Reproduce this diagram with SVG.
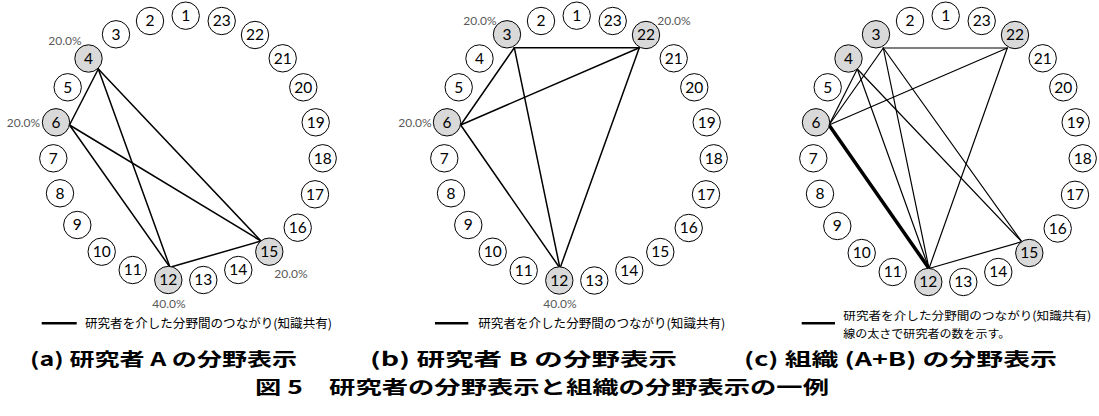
<svg xmlns="http://www.w3.org/2000/svg" width="1099" height="416" viewBox="0 0 1099 416">
<style>
.n circle{fill:#fff;stroke:#000;stroke-width:1}
.n.h circle{fill:#d9d9d9}
.n text{font-family:Lato,"Open Sans",sans-serif;font-size:15.5px;text-anchor:middle;fill:#000}
.e line{stroke:#000;stroke-width:1.5;stroke-linecap:round}
.e.c line{stroke-width:1.2}
.e line.thick{stroke-width:3.5}
.pct{font-family:Lato,"Open Sans",sans-serif;font-size:12px;fill:#595959;text-anchor:middle}
.lg{font-family:"Noto Sans CJK JP",sans-serif;font-size:12.5px;fill:#000}
.lg2{font-family:"Noto Sans CJK JP",sans-serif;font-size:11.5px;fill:#000}
.lgl{stroke:#000;stroke-width:2.5}
.cap{font-family:"Noto Sans CJK JP",sans-serif;font-size:18.5px;font-weight:700;fill:#000}
</style>
<rect width="1099" height="416" fill="#fff"/>

<!-- connectors -->
<g id="edges-a" class="e">
<line x1="98.3" y1="69" x2="69.5" y2="125"/>
<line x1="98.3" y1="69" x2="170" y2="267.3"/>
<line x1="98.3" y1="69" x2="261" y2="241"/>
<line x1="69.5" y1="125" x2="170" y2="267.3"/>
<line x1="69.5" y1="125" x2="261" y2="241"/>
<line x1="170" y1="267.3" x2="261" y2="241"/>
</g>
<g id="edges-b" class="e">
<line x1="514.3" y1="47.7" x2="639.3" y2="47.7"/>
<line x1="514.3" y1="47.7" x2="460.7" y2="125"/>
<line x1="514.3" y1="47.7" x2="560" y2="268.3"/>
<line x1="639.3" y1="47.7" x2="460.7" y2="125"/>
<line x1="639.3" y1="47.7" x2="560" y2="268.3"/>
<line x1="460.7" y1="125" x2="560" y2="268.3"/>
</g>
<g id="edges-c" class="e c">
<line x1="883.3" y1="48" x2="1007.3" y2="48"/>
<line x1="883.3" y1="48" x2="829" y2="125"/>
<line x1="883.3" y1="48" x2="929" y2="268.5"/>
<line x1="883.3" y1="48" x2="1021.7" y2="241.7"/>
<line x1="1007.3" y1="48" x2="829" y2="125"/>
<line x1="1007.3" y1="48" x2="929" y2="268.5"/>
<line x1="857.3" y1="69" x2="829" y2="125"/>
<line x1="857.3" y1="69" x2="929" y2="268.5"/>
<line x1="857.3" y1="69" x2="1021.7" y2="241.7"/>
<line class="thick" x1="829" y1="125" x2="929" y2="268.5"/>
<line x1="929" y1="268.5" x2="1021.7" y2="241.7"/>
</g>

<!-- panel a nodes -->
<g id="a-n1" class="n" transform="translate(185.7,15.7)"><circle r="13.7"/><text y="5.3">1</text></g>
<g id="a-n2" class="n" transform="translate(150,21)"><circle r="13.7"/><text y="5.3">2</text></g>
<g id="a-n3" class="n" transform="translate(116,34.3)"><circle r="13.7"/><text y="5.3">3</text></g>
<g id="a-n4" class="n h" transform="translate(88.5,58.5)"><circle r="13.7"/><text y="5.3">4</text></g>
<g id="a-n5" class="n" transform="translate(67.7,87.3)"><circle r="13.7"/><text y="5.3">5</text></g>
<g id="a-n6" class="n h" transform="translate(56,122.3)"><circle r="13.7"/><text y="5.3">6</text></g>
<g id="a-n7" class="n" transform="translate(53.3,158.3)"><circle r="13.7"/><text y="5.3">7</text></g>
<g id="a-n8" class="n" transform="translate(60,193.3)"><circle r="13.7"/><text y="5.3">8</text></g>
<g id="a-n9" class="n" transform="translate(77.3,225)"><circle r="13.7"/><text y="5.3">9</text></g>
<g id="a-n10" class="n" transform="translate(101.7,251.7)"><circle r="13.7"/><text y="5.3">10</text></g>
<g id="a-n11" class="n" transform="translate(132.7,270)"><circle r="13.7"/><text y="5.3">11</text></g>
<g id="a-n12" class="n h" transform="translate(168.3,280)"><circle r="13.7"/><text y="5.3">12</text></g>
<g id="a-n13" class="n" transform="translate(203.3,280)"><circle r="13.7"/><text y="5.3">13</text></g>
<g id="a-n14" class="n" transform="translate(238.3,270)"><circle r="13.7"/><text y="5.3">14</text></g>
<g id="a-n15" class="n h" transform="translate(269.3,251.7)"><circle r="13.7"/><text y="5.3">15</text></g>
<g id="a-n16" class="n" transform="translate(297.7,227.7)"><circle r="13.7"/><text y="5.3">16</text></g>
<g id="a-n17" class="n" transform="translate(315,194.3)"><circle r="13.7"/><text y="5.3">17</text></g>
<g id="a-n18" class="n" transform="translate(322.7,158.3)"><circle r="13.7"/><text y="5.3">18</text></g>
<g id="a-n19" class="n" transform="translate(315.7,122.3)"><circle r="13.7"/><text y="5.3">19</text></g>
<g id="a-n20" class="n" transform="translate(303.3,87.3)"><circle r="13.7"/><text y="5.3">20</text></g>
<g id="a-n21" class="n" transform="translate(282.7,58.3)"><circle r="13.7"/><text y="5.3">21</text></g>
<g id="a-n22" class="n" transform="translate(255,35)"><circle r="13.7"/><text y="5.3">22</text></g>
<g id="a-n23" class="n" transform="translate(221.7,21)"><circle r="13.7"/><text y="5.3">23</text></g>
<g id="a-labels">
<text class="pct" x="65" y="44.7">20.0%</text>
<text class="pct" x="23.5" y="126.5">20.0%</text>
<text class="pct" x="169" y="307.7">40.0%</text>
<text class="pct" x="291" y="278.2">20.0%</text>
</g>
<g id="a-legend">
<line class="lgl" x1="41.7" y1="323.3" x2="76.7" y2="323.3"/>
<text class="lg" x="85" y="327.8" textLength="247" lengthAdjust="spacingAndGlyphs">研究者を介した分野間のつながり(知識共有)</text>
</g>

<!-- panel b nodes -->
<g id="b-n1" class="n" transform="translate(576.7,15.7)"><circle r="13.7"/><text y="5.3">1</text></g>
<g id="b-n2" class="n" transform="translate(541,21)"><circle r="13.7"/><text y="5.3">2</text></g>
<g id="b-n3" class="n h" transform="translate(507,34.3)"><circle r="13.7"/><text y="5.3">3</text></g>
<g id="b-n4" class="n" transform="translate(479.5,58.5)"><circle r="13.7"/><text y="5.3">4</text></g>
<g id="b-n5" class="n" transform="translate(458.7,87.3)"><circle r="13.7"/><text y="5.3">5</text></g>
<g id="b-n6" class="n h" transform="translate(447,122.3)"><circle r="13.7"/><text y="5.3">6</text></g>
<g id="b-n7" class="n" transform="translate(444.3,158.3)"><circle r="13.7"/><text y="5.3">7</text></g>
<g id="b-n8" class="n" transform="translate(451,193.3)"><circle r="13.7"/><text y="5.3">8</text></g>
<g id="b-n9" class="n" transform="translate(468.3,225)"><circle r="13.7"/><text y="5.3">9</text></g>
<g id="b-n10" class="n" transform="translate(492.7,251.7)"><circle r="13.7"/><text y="5.3">10</text></g>
<g id="b-n11" class="n" transform="translate(523.7,270.5)"><circle r="13.7"/><text y="5.3">11</text></g>
<g id="b-n12" class="n h" transform="translate(559.3,280.5)"><circle r="13.7"/><text y="5.3">12</text></g>
<g id="b-n13" class="n" transform="translate(594.3,280.5)"><circle r="13.7"/><text y="5.3">13</text></g>
<g id="b-n14" class="n" transform="translate(629.3,270.5)"><circle r="13.7"/><text y="5.3">14</text></g>
<g id="b-n15" class="n" transform="translate(660.3,252)"><circle r="13.7"/><text y="5.3">15</text></g>
<g id="b-n16" class="n" transform="translate(688.7,228)"><circle r="13.7"/><text y="5.3">16</text></g>
<g id="b-n17" class="n" transform="translate(706,194.3)"><circle r="13.7"/><text y="5.3">17</text></g>
<g id="b-n18" class="n" transform="translate(713.7,158.3)"><circle r="13.7"/><text y="5.3">18</text></g>
<g id="b-n19" class="n" transform="translate(706.7,122.3)"><circle r="13.7"/><text y="5.3">19</text></g>
<g id="b-n20" class="n" transform="translate(694.3,87.3)"><circle r="13.7"/><text y="5.3">20</text></g>
<g id="b-n21" class="n" transform="translate(673.7,58.3)"><circle r="13.7"/><text y="5.3">21</text></g>
<g id="b-n22" class="n h" transform="translate(646,35)"><circle r="13.7"/><text y="5.3">22</text></g>
<g id="b-n23" class="n" transform="translate(612.7,21)"><circle r="13.7"/><text y="5.3">23</text></g>
<g id="b-labels">
<text class="pct" x="480" y="24.9">20.0%</text>
<text class="pct" x="674" y="24.9">20.0%</text>
<text class="pct" x="415" y="126.5">20.0%</text>
<text class="pct" x="560" y="308.2">40.0%</text>
</g>
<g id="b-legend">
<line class="lgl" x1="435" y1="323.3" x2="468.3" y2="323.3"/>
<text class="lg" x="478.3" y="327.8" textLength="247" lengthAdjust="spacingAndGlyphs">研究者を介した分野間のつながり(知識共有)</text>
</g>

<!-- panel c nodes -->
<g id="c-n1" class="n" transform="translate(945.7,15.7)"><circle r="13.7"/><text y="5.3">1</text></g>
<g id="c-n2" class="n" transform="translate(910,21)"><circle r="13.7"/><text y="5.3">2</text></g>
<g id="c-n3" class="n h" transform="translate(876,34.3)"><circle r="13.7"/><text y="5.3">3</text></g>
<g id="c-n4" class="n h" transform="translate(848.5,58.5)"><circle r="13.7"/><text y="5.3">4</text></g>
<g id="c-n5" class="n" transform="translate(827.7,87.3)"><circle r="13.7"/><text y="5.3">5</text></g>
<g id="c-n6" class="n h" transform="translate(816,122.3)"><circle r="13.7"/><text y="5.3">6</text></g>
<g id="c-n7" class="n" transform="translate(813.3,158.3)"><circle r="13.7"/><text y="5.3">7</text></g>
<g id="c-n8" class="n" transform="translate(820,193.8)"><circle r="13.7"/><text y="5.3">8</text></g>
<g id="c-n9" class="n" transform="translate(837.3,226)"><circle r="13.7"/><text y="5.3">9</text></g>
<g id="c-n10" class="n" transform="translate(861.7,253)"><circle r="13.7"/><text y="5.3">10</text></g>
<g id="c-n11" class="n" transform="translate(892.7,272)"><circle r="13.7"/><text y="5.3">11</text></g>
<g id="c-n12" class="n h" transform="translate(928.3,282)"><circle r="13.7"/><text y="5.3">12</text></g>
<g id="c-n13" class="n" transform="translate(963.3,282)"><circle r="13.7"/><text y="5.3">13</text></g>
<g id="c-n14" class="n" transform="translate(998.3,272)"><circle r="13.7"/><text y="5.3">14</text></g>
<g id="c-n15" class="n h" transform="translate(1029.3,253)"><circle r="13.7"/><text y="5.3">15</text></g>
<g id="c-n16" class="n" transform="translate(1057.7,228.5)"><circle r="13.7"/><text y="5.3">16</text></g>
<g id="c-n17" class="n" transform="translate(1075,194.8)"><circle r="13.7"/><text y="5.3">17</text></g>
<g id="c-n18" class="n" transform="translate(1082.7,158.3)"><circle r="13.7"/><text y="5.3">18</text></g>
<g id="c-n19" class="n" transform="translate(1075.7,122.3)"><circle r="13.7"/><text y="5.3">19</text></g>
<g id="c-n20" class="n" transform="translate(1063.3,87.3)"><circle r="13.7"/><text y="5.3">20</text></g>
<g id="c-n21" class="n" transform="translate(1042.7,58.3)"><circle r="13.7"/><text y="5.3">21</text></g>
<g id="c-n22" class="n h" transform="translate(1015,35)"><circle r="13.7"/><text y="5.3">22</text></g>
<g id="c-n23" class="n" transform="translate(981.7,21)"><circle r="13.7"/><text y="5.3">23</text></g>
<g id="c-legend">
<line class="lgl" x1="801.7" y1="323.3" x2="835" y2="323.3"/>
<text class="lg2" x="843.3" y="320.3" textLength="248" lengthAdjust="spacingAndGlyphs">研究者を介した分野間のつながり(知識共有)</text>
<text class="lg2" x="843.3" y="337.5" textLength="167" lengthAdjust="spacingAndGlyphs">線の太さで研究者の数を示す。</text>
</g>

<!-- captions -->
<g id="captions">
<text class="cap" x="30" y="366" textLength="267" lengthAdjust="spacingAndGlyphs">(a) 研究者 A の分野表示</text>
<text class="cap" x="370" y="366" textLength="307" lengthAdjust="spacingAndGlyphs">(b)  研究者 B の分野表示</text>
<text class="cap" x="744" y="366" textLength="313" lengthAdjust="spacingAndGlyphs">(c)  組織  (A+B)  の分野表示</text>
<text class="cap" x="255" y="393.5" textLength="574" lengthAdjust="spacingAndGlyphs">図 5　研究者の分野表示と組織の分野表示の一例</text>
</g>
</svg>
